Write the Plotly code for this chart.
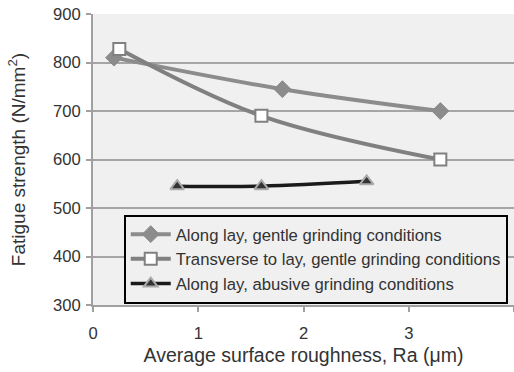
import plotly.graph_objects as go

s1_x = [0.2, 1.8, 3.3]
s1_y = [810, 745, 700]
s2_x = [0.25, 1.6, 3.3]
s2_y = [828, 690, 600]
s3_x = [0.8, 1.6, 2.6]
s3_y = [545, 545, 555]
names = ["Along lay, gentle grinding conditions",
         "Transverse to lay, gentle grinding conditions",
         "Along lay, abusive grinding conditions"]
x_ticks = [0, 1, 2, 3, 4]
y_ticks = [300, 400, 500, 600, 700, 800, 900]

fig = go.Figure()
fig.add_trace(go.Scatter(x=s1_x, y=s1_y, name=names[0], mode="lines+markers",
                         line=dict(color="#8c8c8c", width=4, shape="spline"),
                         marker=dict(symbol="diamond", size=13, color="#8c8c8c",
                                     line=dict(color="#8c8c8c", width=1))))
fig.add_trace(go.Scatter(x=s2_x, y=s2_y, name=names[1], mode="lines+markers",
                         line=dict(color="#808080", width=4, shape="spline"),
                         marker=dict(symbol="square", size=12, color="white",
                                     line=dict(color="#808080", width=2))))
fig.add_trace(go.Scatter(x=s3_x, y=s3_y, name=names[2], mode="lines+markers",
                         line=dict(color="#1a1a1a", width=3.5, shape="spline"),
                         marker=dict(symbol="triangle-up", size=12, color="#333333",
                                     line=dict(color="#aaaaaa", width=2))))

fig.update_layout(
    width=514, height=372,
    margin=dict(l=93, r=0, t=14, b=67),
    paper_bgcolor="white", plot_bgcolor="#f0f0f0",
    font=dict(family="Liberation Sans, Arial", size=16.6, color="#333333"),
    showlegend=True,
    legend=dict(x=0.073, y=0.31, xanchor="left", yanchor="top",
                bgcolor="#f0f0f0", bordercolor="black", borderwidth=2,
                font=dict(size=16.7, color="#333333"), tracegroupgap=0,
                itemwidth=40),
    xaxis=dict(range=[0, 4], tickvals=x_ticks, showgrid=False, zeroline=False,
               showline=True, linecolor="#a0a0a0", linewidth=2,
               ticks="outside", ticklen=5, tickcolor="#a0a0a0", tickwidth=2,
               ticklabelstandoff=7,
               title=dict(text="Average surface roughness, Ra (μm)", font=dict(size=19.5), standoff=6),
               tickfont=dict(size=16.6)),
    yaxis=dict(range=[300, 900], tickvals=y_ticks, showgrid=True, gridcolor="#a5a5a5",
               gridwidth=2, zeroline=False, showline=True, linecolor="#a0a0a0", linewidth=2,
               ticks="outside", ticklen=5, tickcolor="#a0a0a0", tickwidth=2,
               ticklabelstandoff=2,
               title=dict(text="Fatigue strength (N/mm<sup>2</sup>)", font=dict(size=19), standoff=22),
               tickfont=dict(size=16.6)),
)

fig.write_html("out.html")
